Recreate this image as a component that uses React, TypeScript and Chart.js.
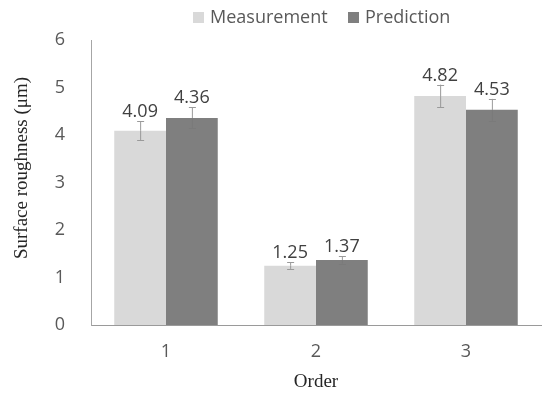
import React, { useEffect, useRef } from "react";
import { Chart, registerables } from "chart.js";

Chart.register(...registerables);

const categories = ["1", "2", "3"];
const measurement = [4.09, 1.25, 4.82];
const prediction = [4.36, 1.37, 4.53];
const measurementErr = [0.2, 0.07, 0.24];
const predictionErr = [0.22, 0.08, 0.23];
const seriesNames = ["Measurement", "Prediction"];
const seriesColors = ["#d9d9d9", "#7f7f7f"];
const yTitle = "Surface roughness (μm)";
const xTitle = "Order";
const errs = [measurementErr, predictionErr];

const SANS = "'Open Sans', sans-serif";
const SERIF = "'Liberation Serif', 'Times New Roman', serif";

const overlayPlugin = {
  id: "overlay",
  afterDatasetsDraw(chart: any) {
    const ctx = chart.ctx;
    const y = chart.scales.y;
    ctx.save();
    chart.data.datasets.forEach((ds: any, di: number) => {
      const meta = chart.getDatasetMeta(di);
      meta.data.forEach((bar: any, i: number) => {
        const v = ds.data[i];
        const e = errs[di][i];
        const x = bar.x;
        const yt = y.getPixelForValue(v + e);
        const yb = y.getPixelForValue(v - e);
        const yv = y.getPixelForValue(v);
        ctx.lineWidth = 1;
        // upper half
        ctx.strokeStyle = "#9a9a9a";
        ctx.beginPath();
        ctx.moveTo(x + 0.5, yt);
        ctx.lineTo(x + 0.5, yv);
        ctx.moveTo(x - 3, Math.round(yt) + 0.5);
        ctx.lineTo(x + 4, Math.round(yt) + 0.5);
        ctx.stroke();
        // lower half (blends with dark bars)
        ctx.strokeStyle = di === 0 ? "#9a9a9a" : "#7a7a7a";
        ctx.beginPath();
        ctx.moveTo(x + 0.5, yv);
        ctx.lineTo(x + 0.5, yb);
        ctx.moveTo(x - 3, Math.round(yb) + 0.5);
        ctx.lineTo(x + 4, Math.round(yb) + 0.5);
        ctx.stroke();
        ctx.fillStyle = "#404040";
        ctx.font = `18px ${SANS}`;
        ctx.textAlign = "center";
        ctx.textBaseline = "alphabetic";
        ctx.fillText(v.toFixed(2), x, yt - 4);
      });
    });
    // legend
    ctx.font = `18px ${SANS}`;
    ctx.textAlign = "left";
    ctx.textBaseline = "middle";
    const legendX = [193, 348];
    seriesNames.forEach((name, i) => {
      ctx.fillStyle = seriesColors[i];
      ctx.fillRect(legendX[i], 12, 11, 11);
      ctx.fillStyle = "#595959";
      ctx.fillText(name, legendX[i] + 17, 18);
    });
    // y axis title
    ctx.translate(22, 168);
    ctx.rotate(-Math.PI / 2);
    ctx.font = `19px ${SERIF}`;
    ctx.fillStyle = "#262626";
    ctx.textAlign = "center";
    ctx.textBaseline = "middle";
    ctx.fillText(yTitle, 0, 0);
    ctx.restore();
  },
};

export default function App() {
  const ref = useRef<HTMLCanvasElement>(null);
  useEffect(() => {
    if (!ref.current) return;
    const chart = new Chart(ref.current, {
      type: "bar",
      data: {
        labels: categories,
        datasets: [
          { label: seriesNames[0], data: measurement, backgroundColor: seriesColors[0], categoryPercentage: 0.69, barPercentage: 1 },
          { label: seriesNames[1], data: prediction, backgroundColor: seriesColors[1], categoryPercentage: 0.69, barPercentage: 1 },
        ],
      },
      options: {
        responsive: false,
        animation: false,
        layout: { padding: { top: 40, right: 9, left: 0, bottom: 0 } },
        plugins: { legend: { display: false }, tooltip: { enabled: false } },
        scales: {
          x: {
            grid: { display: false },
            border: { color: "#9a9a9a", width: 1 },
            ticks: { color: "#595959", font: { family: SANS, size: 18 }, padding: 8 },
            title: { display: true, text: xTitle, color: "#262626", font: { family: SERIF, size: 19 }, padding: { top: 4, bottom: 4 } },
            afterFit: (s: any) => { s.height = 72; },
          },
          y: {
            min: 0,
            max: 6,
            grid: { display: false },
            border: { color: "#a6a6a6", width: 1 },
            ticks: { stepSize: 1, color: "#595959", font: { family: SANS, size: 18 }, padding: 18 },
            title: { display: false },
            afterFit: (s: any) => { s.width = 91; },
          },
        },
      },
      plugins: [overlayPlugin],
    });
    return () => chart.destroy();
  }, []);
  return (
    <div style={{ position: "absolute", left: 0, top: 0, width: 550, height: 397, background: "#fff" }}>
      <canvas ref={ref} width={550} height={397} />
    </div>
  );
}
